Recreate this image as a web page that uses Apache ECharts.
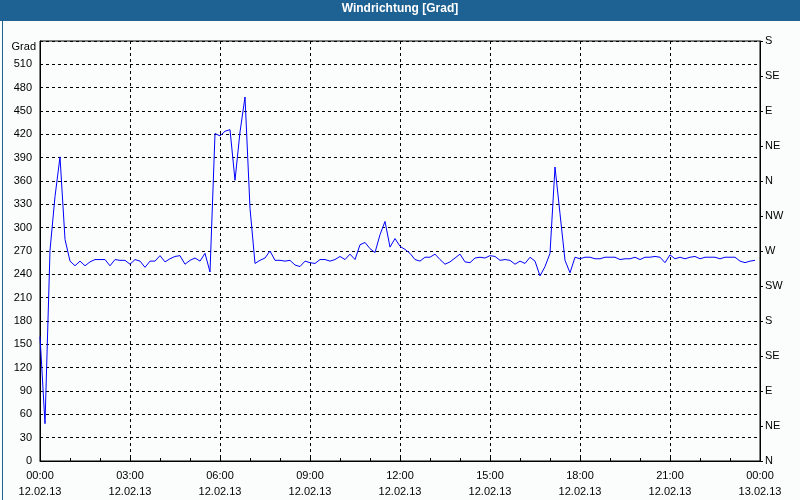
<!DOCTYPE html>
<html>
<head>
<meta charset="utf-8">
<script src="https://cdn.jsdelivr.net/npm/echarts@6/dist/echarts.min.js"></script>
<style>
html,body{margin:0;padding:0;background:#fafdfb;}
#c{width:800px;height:500px;}
</style>
</head>
<body>
<div id="c"></div>
<script>
// 10-minute samples from 00:00 to 23:50, 12.02.13
const stepMinutes = 10;
const windDir = [
160,48,271,340,391,285,257,251,257,251,256,259,259,259,251,259,258,258,253,259,
257,249,257,257,264,256,260,263,264,253,258,261,257,267,243,421,418,424,426,361,
423,468,325,254,258,261,270,258,258,257,258,252,250,257,255,254,259,259,257,259,
263,259,266,259,278,281,273,268,291,308,275,286,276,272,267,259,257,262,262,266,
259,253,256,261,266,256,255,261,262,261,264,263,258,259,258,253,257,254,262,257,
238,250,267,378,318,258,242,262,260,262,262,260,260,262,262,262,259,260,260,262,
259,262,262,263,262,255,265,260,262,260,262,263,260,262,262,262,260,262,262,262,
257,255,257,258
];
const timeLabels = ['00:00','03:00','06:00','09:00','12:00','15:00','18:00','21:00','00:00'];
const dateLabels = ['12.02.13','12.02.13','12.02.13','12.02.13','12.02.13','12.02.13','12.02.13','12.02.13','13.02.13'];
const dirLabels = ['N','NE','E','SE','S','SW','W','NW','N','NE','E','SE','S'];
const titleText = 'Windrichtung [Grad]';
const unitName = 'Grad';

const FONT = 'Liberation Sans';
const blue = '#1e6294';
const chart = echarts.init(document.getElementById('c'), null, {renderer:'canvas'});
const seriesData = windDir.map((v,i)=>[i*stepMinutes, v]);

chart.setOption({
  backgroundColor:'#fafdfb',
  animation:false,
  textStyle:{fontFamily:FONT},
  graphic:[
    {type:'rect', left:0, top:0, shape:{width:800, height:21}, style:{fill:blue}, z:10},
    {type:'rect', left:0, top:0, shape:{x:0.5,y:0.5,width:799,height:499}, style:{fill:'none', stroke:blue, lineWidth:1}, z:10},
    {type:'text', left:'center', top:3, style:{text:titleText, fill:'#fff', font:'bold 12px '+FONT}, z:11}
  ],
  grid:{left:40, right:40, top:41, bottom:39, show:true, borderColor:'#000', borderWidth:1, backgroundColor:'transparent'},
  xAxis:{
    type:'value', min:0, max:1440, interval:180,
    axisLine:{show:true, lineStyle:{color:'#000', width:1}},
    axisTick:{show:true, inside:true, length:3, lineStyle:{color:'#000'}},
    minorTick:{show:true, splitNumber:3, length:3, lineStyle:{color:'#000'}},
    axisLabel:{color:'#000', fontSize:11, lineHeight:16, margin:7,
      formatter:(v)=>{const k=Math.round(v/180); return timeLabels[k]+'\n'+dateLabels[k];}},
    splitLine:{show:true, lineStyle:{color:'#000', type:[3,3], width:1}}
  },
  yAxis:[
    {
      type:'value', min:0, max:540, interval:30, position:'left',
      name:unitName, nameLocation:'end', nameGap:-6,
      nameTextStyle:{color:'#000', fontSize:11, align:'right', verticalAlign:'middle', padding:[0,4,0,0]},
      axisLine:{show:true, lineStyle:{color:'#000'}},
      axisTick:{show:false},
      axisLabel:{color:'#000', fontSize:11, margin:8, showMaxLabel:false},
      splitLine:{show:true, lineStyle:{color:'#000', type:[3,3], width:1}}
    },
    {
      type:'value', min:0, max:540, interval:45, position:'right',
      axisLine:{show:true, lineStyle:{color:'#000'}},
      axisTick:{show:true, length:3, lineStyle:{color:'#000'}},
      axisLabel:{color:'#000', fontSize:11, margin:5, formatter:(v)=>dirLabels[Math.round(v/45)]},
      splitLine:{show:false}
    }
  ],
  series:[{
    type:'line', data:seriesData, yAxisIndex:0, showSymbol:false, symbol:'none',
    lineStyle:{color:'#0000ff', width:1}, itemStyle:{color:'#0000ff'}
  }]
});
</script>
</body>
</html>
